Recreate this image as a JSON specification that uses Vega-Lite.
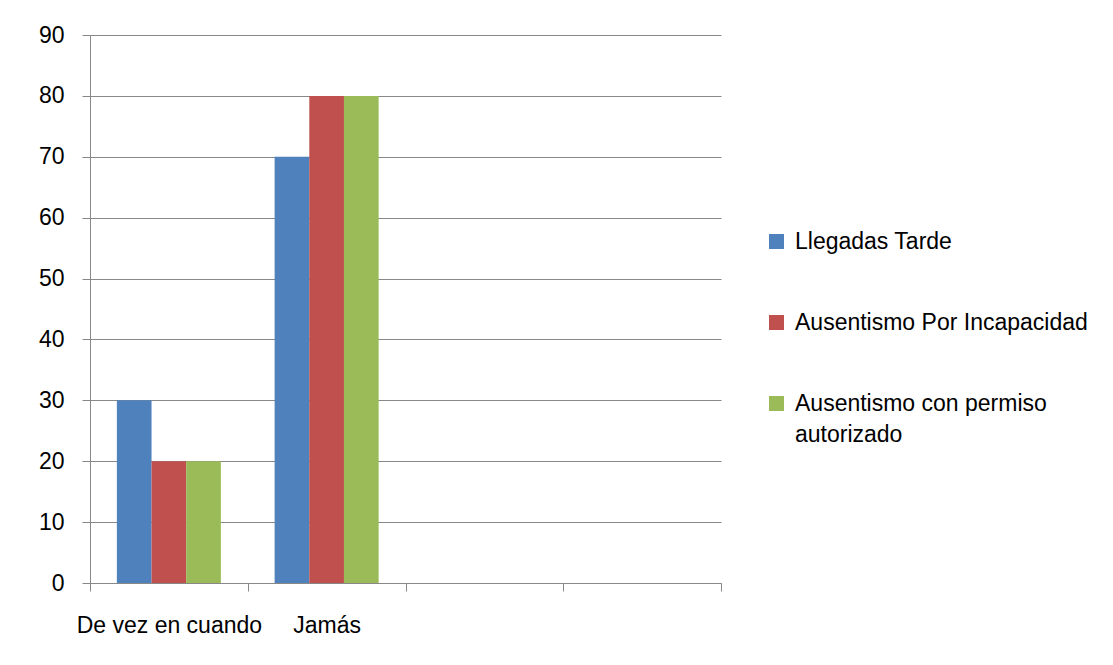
{
  "$schema": "https://vega.github.io/schema/vega-lite/v6.json",
  "autosize": {"type": "none"},
  "padding": {"left": 90, "top": 35, "right": 392, "bottom": 82},
  "width": 631,
  "height": 548,
  "background": "white",
  "config": {
    "font": "Liberation Sans",
    "view": {"stroke": null},
    "style": {"guide-label": {"lineHeight": 31}},
    "axis": {"labelFontSize": 23, "labelColor": "#000000", "domainColor": "#888888", "tickColor": "#888888", "gridColor": "#888888", "title": null}
  },
  "data": {
    "values": [
      {"categoria": "De vez en cuando", "serie": "Llegadas Tarde", "valor": 30},
      {"categoria": "De vez en cuando", "serie": "Ausentismo Por Incapacidad", "valor": 20},
      {"categoria": "De vez en cuando", "serie": "Ausentismo con permiso autorizado", "valor": 20},
      {"categoria": "Jamás", "serie": "Llegadas Tarde", "valor": 70},
      {"categoria": "Jamás", "serie": "Ausentismo Por Incapacidad", "valor": 80},
      {"categoria": "Jamás", "serie": "Ausentismo con permiso autorizado", "valor": 80}
    ]
  },
  "mark": {"type": "bar"},
  "encoding": {
    "x": {
      "field": "categoria",
      "type": "nominal",
      "scale": {"domain": ["De vez en cuando", "Jamás", "c3", "c4"], "paddingInner": 0, "paddingOuter": 0},
      "axis": {
        "labelAngle": 0,
        "tickBand": "extent",
        "tickSize": 8,
        "labelPadding": 23,
        "labelExpr": "(datum.value == 'c3' || datum.value == 'c4') ? '' : datum.label",
        "grid": false,
        "labelLimit": 0
      }
    },
    "xOffset": {
      "field": "serie",
      "type": "nominal",
      "sort": ["Llegadas Tarde", "Ausentismo Por Incapacidad", "Ausentismo con permiso autorizado"],
      "scale": {"paddingInner": 0, "paddingOuter": 0.775}
    },
    "y": {
      "field": "valor",
      "type": "quantitative",
      "scale": {"domain": [0, 90], "nice": false},
      "axis": {"values": [0, 10, 20, 30, 40, 50, 60, 70, 80, 90], "tickSize": 8, "labelPadding": 18, "grid": true}
    },
    "color": {
      "field": "serie",
      "type": "nominal",
      "sort": ["Llegadas Tarde", "Ausentismo Por Incapacidad", "Ausentismo con permiso autorizado"],
      "scale": {
        "domain": ["Llegadas Tarde", "Ausentismo Por Incapacidad", "Ausentismo con permiso autorizado"],
        "range": ["#4F81BD", "#C0504D", "#9BBB59"]
      },
      "legend": {
        "title": null,
        "orient": "none",
        "legendX": 675,
        "legendY": 195,
        "padding": 0,
        "symbolType": "square",
        "symbolSize": 225,
        "symbolStrokeWidth": 0,
        "labelFontSize": 23,
        "labelColor": "#000000",
        "labelOffset": 7,
        "labelLimit": 0,
        "rowPadding": 57,
        "labelExpr": "datum.label == 'Ausentismo con permiso autorizado' ? ['Ausentismo con permiso', 'autorizado'] : datum.label"
      }
    }
  }
}
